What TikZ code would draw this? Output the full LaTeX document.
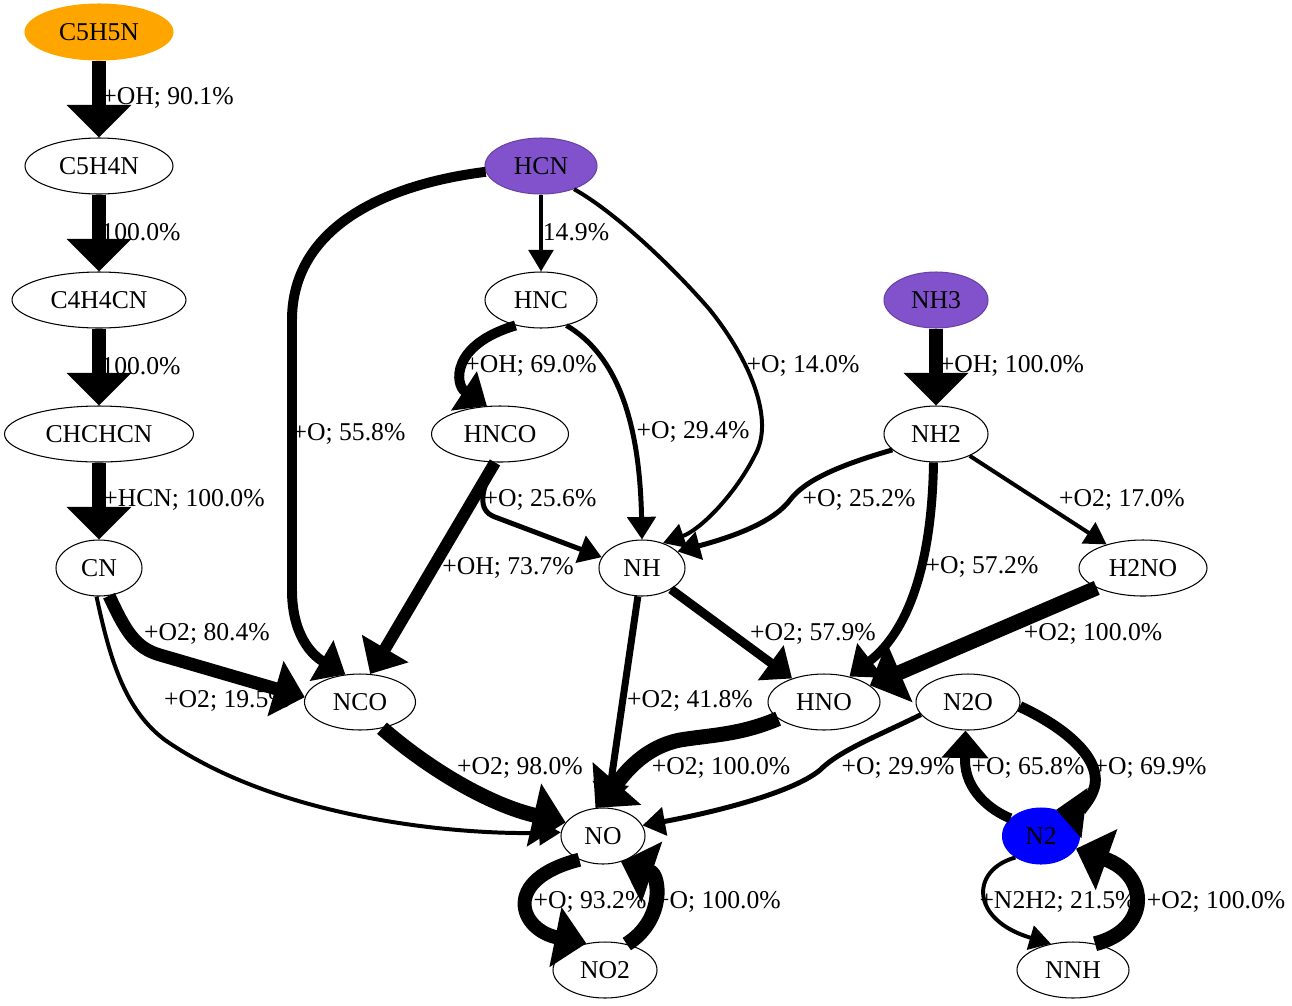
\documentclass[tikz,border=0pt]{standalone}
\usepackage{fontspec}
\setmainfont{Liberation Serif}
\usetikzlibrary{arrows.meta,shapes.geometric}
\definecolor{srcorange}{HTML}{FFA500}
\definecolor{srcpurple}{HTML}{8252CC}
\tikzstyle{spc}=[ellipse, draw, line width=0.6pt, fill=white, inner sep=0pt, minimum height=1.12cm, font=\fontsize{14.6}{16}\selectfont]
\tikzstyle{lbl}=[inner sep=0pt, font=\fontsize{14.6}{16}\selectfont]
\tikzset{wd/.style={minimum width=#1*0.02cm},
         pen/.style={line width=#1*0.567pt, -{Triangle[length=10pt 1, width=6pt 3.5]}}}

\begin{document}
\begin{tikzpicture}[x=0.02cm,y=-0.02cm]
  \useasboundingbox[fill=white] (0,0) rectangle (1292,1005);
  \node[spc,wd=148,fill=srcorange,draw=srcorange] (C5H5N) at (99,32) {C5H5N};
  \node[spc,wd=148] (C5H4N) at (99,166) {C5H4N};
  \node[spc,wd=174] (C4H4CN) at (99,300) {C4H4CN};
  \node[spc,wd=189] (CHCHCN) at (99,434) {CHCHCN};
  \node[spc,wd=86] (CN) at (99,568) {CN};
  \node[spc,wd=112,fill=srcpurple,draw=srcpurple!80!black] (HCN) at (541,166) {HCN};
  \node[spc,wd=112] (HNC) at (541,300) {HNC};
  \node[spc,wd=104,fill=srcpurple,draw=srcpurple!80!black] (NH3) at (936,300) {NH3};
  \node[spc,wd=137] (HNCO) at (500,434) {HNCO};
  \node[spc,wd=104] (NH2) at (936,434) {NH2};
  \node[spc,wd=86] (NH) at (642,568) {NH};
  \node[spc,wd=128] (H2NO) at (1143,568) {H2NO};
  \node[spc,wd=111] (NCO) at (360,702) {NCO};
  \node[spc,wd=112] (HNO) at (824,702) {HNO};
  \node[spc,wd=104] (N2O) at (968,702) {N2O};
  \node[spc,wd=84] (NO) at (603,836) {NO};
  \node[spc,wd=77,fill=blue,draw=blue] (N2) at (1041,836) {N2};
  \node[spc,wd=104] (NO2) at (605,970) {NO2};
  \node[spc,wd=112] (NNH) at (1073,970) {NNH};

  % left chain
  \draw[pen=15] (C5H5N) -- (C5H4N);
  \draw[pen=15] (C5H4N) -- (C4H4CN);
  \draw[pen=15] (C4H4CN) -- (CHCHCN);
  \draw[pen=15] (CHCHCN) -- (CN);
  % HCN and HNC
  \draw[pen=10] (HCN.186) .. controls (380,185) and (292,230) .. (292,320) -- (292,590) .. controls (292,635) and (312,655) .. (NCO.118);
  \draw[pen=4] (HCN) -- (HNC);
  \draw[pen=4] (HCN.-35) .. controls (620,215) and (680,275) .. (710,310) .. controls (750,360) and (775,420) .. (755,455) .. controls (735,495) and (700,530) .. (NH.50);
  \draw[pen=10] (HNC.225) .. controls (450,345) and (455,385) .. (HNCO.115);
  \draw[pen=5] (HNC.-45) .. controls (625,360) and (640,440) .. (NH.north);
  % NH3 and NH2
  \draw[pen=15] (NH3) -- (NH2);
  \draw[pen=5] (NH2.200) .. controls (840,465) and (805,480) .. (790,500) .. controls (775,520) and (740,535) .. (NH.25);
  \draw[pen=9] (NH2.-95) .. controls (932,560) and (910,630) .. (HNO.45);
  \draw[pen=4] (NH2) -- (H2NO);
  % HNCO and CN
  \draw[pen=5] (HNCO.-102) .. controls (482,490) and (476,510) .. (495,517) -- (NH.165);
  \draw[pen=12] (HNCO.-100) -- (NCO.70);
  \draw[pen=13] (CN.-70) .. controls (125,630) and (135,648) .. (160,655) -- (NCO.175);
  \draw[pen=4] (CN.-95) .. controls (110,660) and (125,710) .. (165,740) .. controls (280,820) and (460,835) .. (NO.175);
  \draw[pen=15] (NCO.-50) .. controls (430,770) and (490,805) .. (NO.160);
  % NH, H2NO, HNO
  \draw[pen=9] (NH) -- (HNO);
  \draw[pen=7] (NH) -- (NO);
  \draw[pen=15] (H2NO) -- (HNO.20);
  \draw[pen=15] (HNO.200) .. controls (740,735) and (710,735) .. (680,740) .. controls (640,748) and (620,780) .. (NO.105);
  % N2O, N2, NO2, NNH
  \draw[pen=5] (N2O.195) .. controls (880,735) and (840,750) .. (820,770) .. controls (790,795) and (700,815) .. (NO.15);
  \draw[pen=11] (N2O.-5) .. controls (1060,725) and (1100,755) .. (1095,785) .. controls (1090,805) and (1075,812) .. (N2.60);
  \draw[pen=10] (N2.150) .. controls (990,810) and (965,790) .. (965,760) -- (N2O.-95);
  \draw[pen=14] (NO.225) .. controls (500,880) and (520,930) .. (NO2.125);
  \draw[pen=15] (NO2.50) .. controls (665,920) and (660,875) .. (NO.-55);
  \draw[pen=4] (N2.220) .. controls (970,870) and (970,920) .. (NNH.130);
  \draw[pen=15] (NNH.50) .. controls (1150,930) and (1150,875) .. (N2.-20);

  % labels
  \node[lbl] (l1) at (168,98) {+OH; 90.1\%};
  \node[lbl] (l2) at (141,232) {100.0\%};
  \node[lbl] (l3) at (141,366) {100.0\%};
  \node[lbl] (l4) at (184,500) {+HCN; 100.0\%};
  \node[lbl] (l5) at (349,434) {+O; 55.8\%};
  \node[lbl] (l6) at (576,232) {14.9\%};
  \node[lbl] (l7) at (803,366) {+O; 14.0\%};
  \node[lbl] (l8) at (531,366) {+OH; 69.0\%};
  \node[lbl] (l9) at (693,432) {+O; 29.4\%};
  \node[lbl] (l10) at (1012,366) {+OH; 100.0\%};
  \node[lbl] (l11) at (859,500) {+O; 25.2\%};
  \node[lbl] (l12) at (982,567) {+O; 57.2\%};
  \node[lbl] (l13) at (1122,500) {+O2; 17.0\%};
  \node[lbl] (l14) at (540,500) {+O; 25.6\%};
  \node[lbl] (l15) at (508,568) {+OH; 73.7\%};
  \node[lbl] (l16) at (207,634) {+O2; 80.4\%};
  \node[lbl] (l17) at (227,701) {+O2; 19.5\%};
  \node[lbl] (l18) at (520,768) {+O2; 98.0\%};
  \node[lbl] (l19) at (813,634) {+O2; 57.9\%};
  \node[lbl] (l20) at (690,701) {+O2; 41.8\%};
  \node[lbl] (l21) at (1093,634) {+O2; 100.0\%};
  \node[lbl] (l22) at (721,768) {+O2; 100.0\%};
  \node[lbl] (l23) at (898,768) {+O; 29.9\%};
  \node[lbl] (l24) at (1150,768) {+O; 69.9\%};
  \node[lbl] (l25) at (1028,768) {+O; 65.8\%};
  \node[lbl] (l26) at (590,902) {+O; 93.2\%};
  \node[lbl] (l27) at (718,902) {+O; 100.0\%};
  \node[lbl] (l28) at (1058,902) {+N2H2; 21.5\%};
  \node[lbl] (l29) at (1216,902) {+O2; 100.0\%};
\end{tikzpicture}
\end{document}
